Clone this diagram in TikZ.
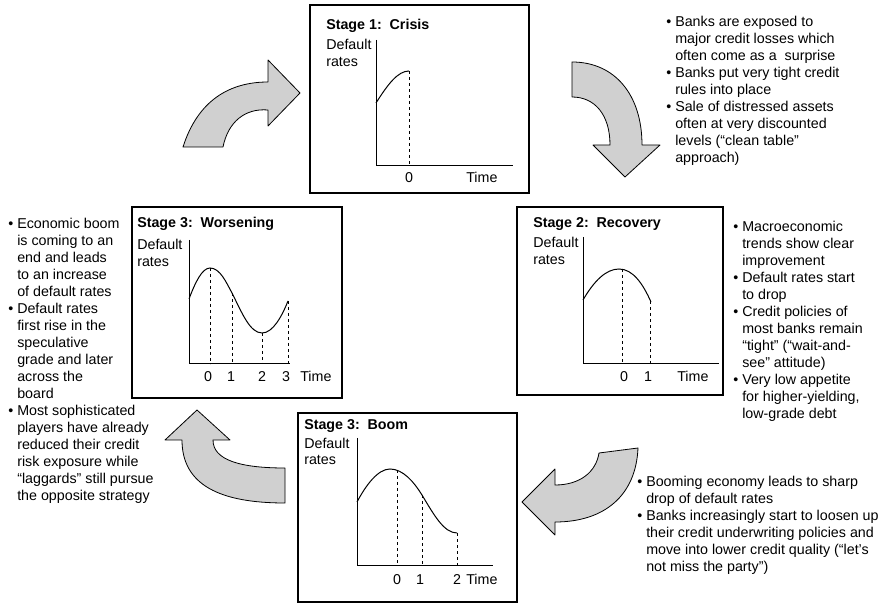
\documentclass[tikz,border=0pt]{standalone}
\usepackage{fontspec}
\setmainfont{Liberation Sans}
\definecolor{arrowgray}{RGB}{208,208,208}

\begin{document}
\begin{tikzpicture}[
    x=0.75pt, y=-0.75pt,
    every node/.style={inner sep=0pt, font=\fontsize{10.7}{12.75}\selectfont},
    panel/.style={draw=black, line width=0.8pt},
    axis/.style={line width=0.75pt},
    curve/.style={line width=0.75pt},
    guide/.style={line width=0.6pt, dash pattern=on 2.5pt off 2pt},
    bigarrow/.style={draw=black, fill=arrowgray, line width=0.6pt, line join=round},
    heading/.style={anchor=base west, font=\fontsize{10.7}{12.75}\selectfont\bfseries},
    ylabel/.style={anchor=base west, align=left},
    tick/.style={anchor=base},
    note/.style={anchor=base west}
]
\useasboundingbox (0,0) rectangle (878,605);

% Stage 1: Crisis
\draw[panel] (310,5) rectangle (529,193);
\node[heading] (crisis) at (326,30) {Stage 1:\ \ Crisis};
\node[ylabel] (crisisy) at (326,67) {Default\\rates};
\draw[axis] (376,40) -- (376,166) -- (513,166);
\draw[curve] (376,103) .. controls (388,84) and (398,71) .. (409,71);
\draw[guide] (409,71) -- (409,166);
\node[tick] (crisis0) at (409,183) {0};
\node[note] (crisist) at (466,183) {Time};

% Stage 2: Recovery
\draw[panel] (517,207) rectangle (723,395);
\node[heading] (recovery) at (533,228) {Stage 2:\ \ Recovery};
\node[ylabel] (recoveryy) at (533,265) {Default\\rates};
\draw[axis] (583,237) -- (583,364) -- (719,364);
\draw[curve] (583,300) .. controls (594,281) and (606,269) .. (619,269) .. controls (633,269) and (643,284) .. (651,302);
\draw[guide] (622,269) -- (622,364);
\draw[guide] (650,301) -- (650,364);
\node[tick] (recovery0) at (624,382) {0};
\node[tick] (recovery1) at (648,382) {1};
\node[note] (recoveryt) at (677,382) {Time};

% Stage 3: Worsening
\draw[panel] (132,207) rectangle (342,398);
\node[heading] (worse) at (137,228) {Stage 3:\ \ Worsening};
\node[ylabel] (worsey) at (137,267) {Default\\rates};
\draw[axis] (189,240) -- (189,364) -- (290,364);
\draw[curve] (189,299) .. controls (195,283) and (202,268) .. (210,268)
    .. controls (220,268) and (226,282) .. (232,293)
    .. controls (242,313) and (250,333) .. (262,333)
    .. controls (273,333) and (282,316) .. (288,301);
\draw[guide] (210,268) -- (210,364);
\draw[guide] (232,293) -- (232,364);
\draw[guide] (262,333) -- (262,364);
\draw[guide] (288,301) -- (288,364);
\node[tick] (worse0) at (208,382) {0};
\node[tick] (worse1) at (231,382) {1};
\node[tick] (worse2) at (262,382) {2};
\node[tick] (worse3) at (286,382) {3};
\node[note] (worset) at (300,382) {Time};

% Stage 3: Boom
\draw[panel] (298,413) rectangle (517,602);
\node[heading] (boom) at (304,430) {Stage 3:\ \ Boom};
\node[ylabel] (boomy) at (304,465) {Default\\rates};
\draw[axis] (357,438) -- (357,565) -- (493,565);
\draw[curve] (357,502) .. controls (366,485) and (378,469) .. (390,469)
    .. controls (403,469) and (414,482) .. (422,495)
    .. controls (434,515) and (444,533) .. (457,533);
\draw[guide] (397,470) -- (397,565);
\draw[guide] (422,495) -- (422,565);
\draw[guide] (457,533) -- (457,565);
\node[tick] (boom0) at (397,584) {0};
\node[tick] (boom1) at (420,584) {1};
\node[tick] (boom2) at (457,584) {2};
\node[note] (boomt) at (466,584) {Time};

% cycle arrows
\draw[bigarrow] (183,147) .. controls (198,100) and (230,82) .. (268,82) -- (268,60) -- (300,93)
    -- (268,126) -- (268,110) .. controls (245,108) and (228,122) .. (223,147) -- cycle;
\draw[bigarrow] (572,62) .. controls (615,62) and (642,95) .. (642,145) -- (660,145) -- (625,177)
    -- (593,145) -- (610,145) .. controls (610,115) and (595,97) .. (572,97) -- cycle;
\draw[bigarrow] (638,448) .. controls (636,495) and (605,522) .. (555,522) -- (555,535) -- (522,502)
    -- (555,469) -- (555,485) .. controls (580,485) and (596,472) .. (599,453) -- cycle;
\draw[bigarrow] (285,503) .. controls (220,503) and (182,485) .. (182,440) -- (165,440) -- (197,410)
    -- (230,440) -- (213,440) .. controls (213,460) and (240,468) .. (285,468) -- cycle;

% notes
\node[note] (crisisnote) at (666,27) {\begin{tabular}[t]{@{}l@{\hspace{3pt}}l@{}}
\textbullet & Banks are exposed to\\
 & major credit losses which\\
 & often come as a\ \ surprise\\
\textbullet & Banks put very tight credit\\
 & rules into place\\
\textbullet & Sale of distressed assets\\
 & often at very discounted\\
 & levels (“clean table”\\
 & approach)
\end{tabular}};
\node[note] (recoverynote) at (733,232) {\begin{tabular}[t]{@{}l@{\hspace{3pt}}l@{}}
\textbullet & Macroeconomic\\
 & trends show clear\\
 & improvement\\
\textbullet & Default rates start\\
 & to drop\\
\textbullet & Credit policies of\\
 & most banks remain\\
 & “tight” (“wait-and-\\
 & see” attitude)\\
\textbullet & Very low appetite\\
 & for higher-yielding,\\
 & low-grade debt
\end{tabular}};
\node[note] (boomnote) at (637,487) {\begin{tabular}[t]{@{}l@{\hspace{3pt}}l@{}}
\textbullet & Booming economy leads to sharp\\
 & drop of default rates\\
\textbullet & Banks increasingly start to loosen up\\
 & their credit underwriting policies and\\
 & move into lower credit quality (“let’s\\
 & not miss the party”)
\end{tabular}};
\node[note] (worsenote) at (8,229) {\begin{tabular}[t]{@{}l@{\hspace{3pt}}l@{}}
\textbullet & Economic boom\\
 & is coming to an\\
 & end and leads\\
 & to an increase\\
 & of default rates\\
\textbullet & Default rates\\
 & first rise in the\\
 & speculative\\
 & grade and later\\
 & across the\\
 & board\\
\textbullet & Most sophisticated\\
 & players have already\\
 & reduced their credit\\
 & risk exposure while\\
 & “laggards” still pursue\\
 & the opposite strategy
\end{tabular}};
\end{tikzpicture}
\end{document}
